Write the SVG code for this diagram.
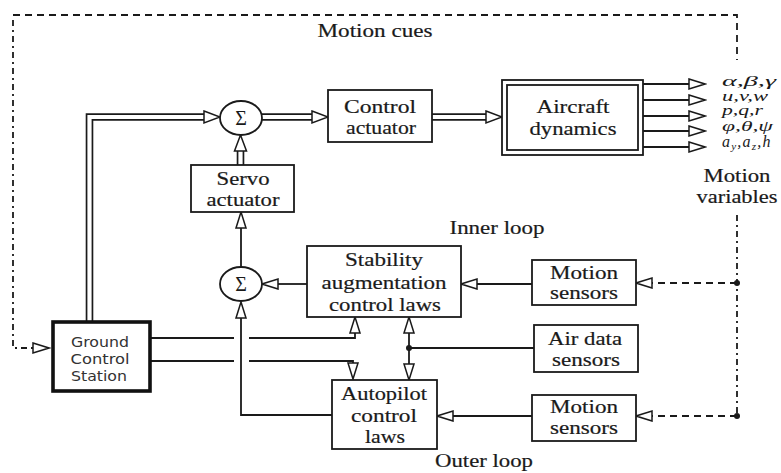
<svg xmlns="http://www.w3.org/2000/svg" width="781" height="473" viewBox="0 0 781 473">
<defs>
<style>
.bx{fill:#fff;stroke:#1a1a1a;stroke-width:1.8}
.gcs{fill:#fff;stroke:#111;stroke-width:3.6}
.ln{fill:none;stroke:#1a1a1a;stroke-width:1.8}
.da{fill:none;stroke:#1a1a1a;stroke-width:1.8;stroke-dasharray:7 5}
.dd{fill:none;stroke:#1a1a1a;stroke-width:1.8;stroke-dasharray:6 4 2 4}
.dbo{fill:none;stroke:#1a1a1a;stroke-width:7.6;stroke-linejoin:miter}
.dbi{fill:none;stroke:#fff;stroke-width:4.2;stroke-linejoin:miter}
.t{font-family:"Liberation Serif","Times New Roman",serif;font-size:19px;fill:#1a1a1a;text-anchor:middle;stroke:#1a1a1a;stroke-width:0.2}
.gr{font-family:"Liberation Serif","Times New Roman",serif;font-size:14px;font-style:italic;fill:#1a1a1a}
.ga{font-family:"Liberation Serif","Times New Roman",serif;font-size:16px;font-style:italic;fill:#1a1a1a;letter-spacing:1.2px}
.sub{font-size:11px}
.s{font-family:"DejaVu Sans",Verdana,sans-serif;font-size:14px;fill:#333;text-anchor:middle}
.sg{font-family:"Liberation Serif","Times New Roman",serif;font-size:20px;fill:#1a1a1a;text-anchor:middle}
.dot{fill:#1a1a1a}
</style>
<marker id="ah" viewBox="-1 -7 19 14" refX="0" refY="0" markerWidth="19" markerHeight="14" markerUnits="userSpaceOnUse" orient="auto">
<path d="M0,-5 L16,0 L0,5 Z" fill="#fff" stroke="#1a1a1a" stroke-width="1.5"/>
</marker>
<marker id="ahd" viewBox="-1 -8 19 16" refX="0" refY="0" markerWidth="19" markerHeight="16" markerUnits="userSpaceOnUse" orient="auto">
<path d="M0,-6 L16,0 L0,6 Z" fill="#fff" stroke="#1a1a1a" stroke-width="1.5"/>
</marker>
</defs>

<g id="connectors">
<path class="da" d="M13,15 H737 V60"/>
<path class="dd" d="M13,20 V348 H33" marker-end="url(#ah)"/>
<path class="dd" d="M737,215 V417"/>
<path class="da" d="M737,283 H652" marker-end="url(#ah)"/>
<path class="da" d="M737,416 H652" marker-end="url(#ah)"/>
<circle class="dot" cx="737" cy="283" r="3"/>
<circle class="dot" cx="737" cy="416" r="3"/>

<path class="dbo" d="M89.5,322 V117 H204"/>
<path class="dbi" d="M89.5,322 V117 H204" marker-end="url(#ahd)"/>
<path class="dbo" d="M262,117 H312"/>
<path class="dbi" d="M262,117 H312" marker-end="url(#ahd)"/>
<path class="dbo" d="M432,117 H486"/>
<path class="dbi" d="M432,117 H486" marker-end="url(#ahd)"/>
<path class="dbo" d="M240.5,165 V151"/>
<path class="dbi" d="M240.5,165 V151" marker-end="url(#ahd)"/>

<path class="ln" d="M643,84 H689" marker-end="url(#ah)"/>
<path class="ln" d="M643,100 H689" marker-end="url(#ah)"/>
<path class="ln" d="M643,116 H689" marker-end="url(#ah)"/>
<path class="ln" d="M643,131 H689" marker-end="url(#ah)"/>
<path class="ln" d="M643,147 H689" marker-end="url(#ah)"/>

<path class="ln" d="M241,267 V228" marker-end="url(#ah)"/>
<path class="ln" d="M307,284 H278" marker-end="url(#ah)"/>
<path class="ln" d="M532,284 H477" marker-end="url(#ah)"/>
<path class="ln" d="M332,415 H241 V318" marker-end="url(#ah)"/>
<path class="ln" d="M532,416 H453" marker-end="url(#ah)"/>
<path class="ln" d="M534,348 H409"/>
<path class="ln" d="M409,348 V333" marker-end="url(#ah)"/>
<path class="ln" d="M409,348 V364" marker-end="url(#ah)"/>
<circle class="dot" cx="409" cy="348" r="3"/>
<path class="ln" d="M150,338 H234"/>
<path class="ln" d="M249,338 H355 V333" marker-end="url(#ah)"/>
<path class="ln" d="M150,361 H234"/>
<path class="ln" d="M249,361 H353 V363" marker-end="url(#ah)"/>
</g>

<g id="sum1">
<ellipse class="bx" cx="241" cy="118" rx="21" ry="17"/>
<text class="sg" x="241" y="125">Σ</text>
</g>
<g id="sum2">
<ellipse class="bx" cx="241" cy="284" rx="21" ry="17"/>
<text class="sg" x="241" y="291">Σ</text>
</g>

<g id="control-actuator">
<rect class="bx" x="328" y="90" width="104" height="52"/>
<text class="t" x="380" y="113" textLength="72" lengthAdjust="spacingAndGlyphs">Control</text>
<text class="t" x="381" y="134" textLength="70" lengthAdjust="spacingAndGlyphs">actuator</text>
</g>

<g id="aircraft-dynamics">
<rect class="bx" x="502" y="80" width="141" height="75"/>
<rect class="bx" x="507" y="85" width="131" height="65"/>
<text class="t" x="573" y="113" textLength="73" lengthAdjust="spacingAndGlyphs">Aircraft</text>
<text class="t" x="573" y="135" textLength="87" lengthAdjust="spacingAndGlyphs">dynamics</text>
</g>

<g id="servo-actuator">
<rect class="bx" x="191" y="165" width="103" height="47"/>
<text class="t" x="243" y="185" textLength="53" lengthAdjust="spacingAndGlyphs">Servo</text>
<text class="t" x="243" y="206" textLength="73" lengthAdjust="spacingAndGlyphs">actuator</text>
</g>

<g id="stability">
<rect class="bx" x="307" y="246" width="154" height="71"/>
<text class="t" x="384" y="266" textLength="78" lengthAdjust="spacingAndGlyphs">Stability</text>
<text class="t" x="384" y="289" textLength="125" lengthAdjust="spacingAndGlyphs">augmentation</text>
<text class="t" x="385" y="311" textLength="112" lengthAdjust="spacingAndGlyphs">control laws</text>
</g>

<g id="autopilot">
<rect class="bx" x="332" y="380" width="105" height="69"/>
<text class="t" x="384" y="400" textLength="86" lengthAdjust="spacingAndGlyphs">Autopilot</text>
<text class="t" x="384" y="422" textLength="66" lengthAdjust="spacingAndGlyphs">control</text>
<text class="t" x="385" y="443" textLength="40" lengthAdjust="spacingAndGlyphs">laws</text>
</g>

<g id="motion-sensors-1">
<rect class="bx" x="532" y="260" width="104" height="45"/>
<text class="t" x="584" y="279" textLength="68" lengthAdjust="spacingAndGlyphs">Motion</text>
<text class="t" x="584" y="299" textLength="68" lengthAdjust="spacingAndGlyphs">sensors</text>
</g>

<g id="air-data-sensors">
<rect class="bx" x="534" y="325" width="104" height="47"/>
<text class="t" x="585" y="345" textLength="74" lengthAdjust="spacingAndGlyphs">Air data</text>
<text class="t" x="586" y="366" textLength="68" lengthAdjust="spacingAndGlyphs">sensors</text>
</g>

<g id="motion-sensors-2">
<rect class="bx" x="532" y="395" width="104" height="46"/>
<text class="t" x="584" y="413" textLength="68" lengthAdjust="spacingAndGlyphs">Motion</text>
<text class="t" x="584" y="434" textLength="68" lengthAdjust="spacingAndGlyphs">sensors</text>
</g>

<g id="ground-control-station">
<rect class="gcs" x="53" y="322" width="97" height="69"/>
<text class="s" x="100" y="347" textLength="58" lengthAdjust="spacingAndGlyphs">Ground</text>
<text class="s" x="100" y="364" textLength="59" lengthAdjust="spacingAndGlyphs">Control</text>
<text class="s" x="99" y="381" textLength="56" lengthAdjust="spacingAndGlyphs">Station</text>
</g>

<g id="labels">
<text class="t" x="375" y="37" textLength="115" lengthAdjust="spacingAndGlyphs">Motion cues</text>
<text class="t" x="497" y="234" textLength="95" lengthAdjust="spacingAndGlyphs">Inner loop</text>
<text class="t" x="484" y="467" textLength="98" lengthAdjust="spacingAndGlyphs">Outer loop</text>
<text class="t" x="737" y="182" textLength="67" lengthAdjust="spacingAndGlyphs">Motion</text>
<text class="t" x="737" y="203" textLength="81" lengthAdjust="spacingAndGlyphs">variables</text>
<text class="gr" x="722" y="86" textLength="54" lengthAdjust="spacingAndGlyphs">α,β,γ</text>
<text class="gr" x="722" y="101" textLength="46" lengthAdjust="spacingAndGlyphs">u,v,w</text>
<text class="gr" x="722" y="115" textLength="41" lengthAdjust="spacingAndGlyphs">p,q,r</text>
<text class="gr" x="722" y="131" textLength="51" lengthAdjust="spacingAndGlyphs">φ,θ,ψ</text>
<text class="ga" x="722" y="147">a<tspan class="sub" dy="3">y</tspan><tspan dy="-3">,a</tspan><tspan class="sub" dy="3">z</tspan><tspan dy="-3">,h</tspan></text>
</g>
</svg>
